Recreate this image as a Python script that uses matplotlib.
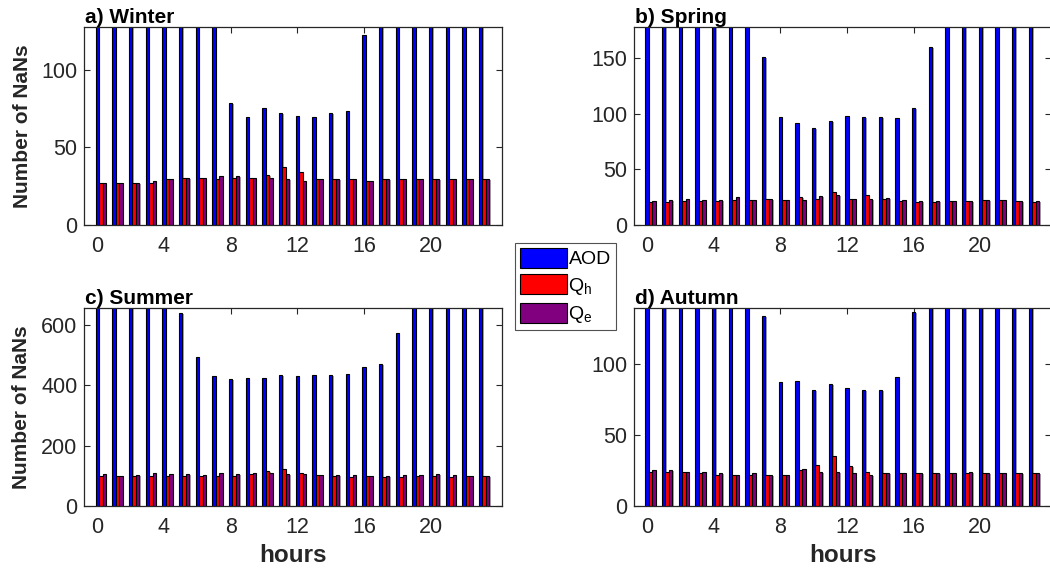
import matplotlib
matplotlib.use("Agg")
import matplotlib.pyplot as plt
import matplotlib.patheffects as pe
import numpy as np

plt.rcParams['font.family'] = ['Liberation Sans', 'DejaVu Sans']
plt.rcParams['mathtext.fontset'] = 'custom'
plt.rcParams['mathtext.rm'] = 'Liberation Sans'

hours = np.arange(24)

# number of NaNs per hour (AOD values above the top of axes are guesses)
winter_aod = [140, 140, 140, 140, 140, 140, 140, 140, 78.3, 69.3, 75.1, 71.9, 70.2, 69.3, 71.9, 73.2,
              122.3, 140, 140, 140, 140, 140, 140, 140]
winter_qh = [27.3, 27.3, 27.3, 27.3, 29.4, 30, 30, 29.4, 30, 30, 32.2, 37.1, 34.1, 29.4, 29.4, 29.4,
             28.1, 29.4, 29.4, 29.4, 29.4, 29.4, 29.4, 29.4]
winter_qe = [27.3, 27.3, 27.3, 28.1, 29.4, 30, 30, 31.5, 31.5, 30, 30, 29.4, 28.1, 29.4, 29.4, 29.4,
             28.1, 29.4, 29.4, 29.4, 29.4, 29.4, 29.4, 29.4]

spring_aod = [190, 190, 190, 190, 190, 190, 190, 150.6, 96.7, 91.9, 86.8, 93.1, 97.6, 96.7, 96.7, 95.8,
              104.8, 159.6, 190, 190, 190, 190, 190, 190]
spring_qh = [20.4, 20.4, 21.3, 21.3, 21.3, 22.2, 22.2, 23, 22.2, 24.9, 23.7, 29.3, 23.7, 27.2, 23, 21.3,
             20.4, 20.4, 21.3, 21.3, 22.2, 22.2, 21.3, 20.4]
spring_qe = [21.3, 22.2, 23, 22.2, 22.2, 25.1, 22.2, 23, 22.2, 22.2, 26, 27.2, 23.7, 23, 24, 22.2,
             21.3, 21.3, 21.3, 21.3, 22.2, 22.2, 21.3, 21.3]

summer_aod = [700, 700, 700, 700, 700, 638.7, 492.8, 429.8, 419.9, 423.2, 423.2, 433.1, 429.8, 432, 434.3,
              436.5, 459.7, 469.6, 572.4, 700, 700, 700, 700, 700]
summer_qh = [98.3, 98.3, 98.3, 98.3, 98.3, 98.3, 98.3, 99.4, 98.3, 106, 115, 121.5, 108, 101.7, 98.3, 96,
             98.3, 96, 96, 98.3, 98.3, 96, 98.3, 98.3]
summer_qe = [106, 99.4, 101.7, 109.4, 106, 105, 101.7, 108.3, 106, 110.5, 109.4, 106, 106, 101.7, 101.7,
             101.7, 99.4, 100.5, 101.7, 102.8, 105, 101.7, 98.3, 98.3]

autumn_aod = [150, 150, 150, 150, 150, 150, 150, 133.8, 87.1, 87.8, 81.9, 85.9, 82.9, 81.9, 81.9, 90.8,
              136.9, 150, 150, 150, 150, 150, 150, 150]
autumn_qh = [23.7, 23.7, 23.9, 23, 21.8, 21.8, 21.8, 21.8, 21.8, 25.1, 28.9, 35, 27.9, 23.9, 23, 23,
             23, 23, 23, 23, 23, 23, 23, 23]
autumn_qe = [25.1, 25.1, 23.9, 23.9, 23, 21.8, 23, 21.8, 21.8, 25.8, 23.9, 23.9, 23, 21.8, 23, 23,
             23, 23, 23, 23.9, 23, 23, 23, 23]

titles = ['a) Winter', 'b) Spring', 'c) Summer', 'd) Autumn']
ylims = [127.4, 178, 653.6, 139.2]
yticks = [[0, 50, 100], [0, 50, 100, 150], [0, 200, 400, 600], [0, 50, 100]]
data = [(winter_aod, winter_qh, winter_qe), (spring_aod, spring_qh, spring_qe),
        (summer_aod, summer_qh, summer_qe), (autumn_aod, autumn_qh, autumn_qe)]
labels = ['AOD', 'Q$_\\mathregular{h}$', 'Q$_\\mathregular{e}$']
colors = ['#0000ff', '#ff0000', '#800080']

W, H = 1050, 578
fig = plt.figure(figsize=(W / 100, H / 100), dpi=100)

# panel boxes in pixels (left, top, right, bottom)
boxes = [(84.3, 27, 501.7, 225), (634, 27, 1051.4, 225),
         (84.3, 308.3, 501.7, 506), (634, 308.3, 1051.4, 506)]

grey = (0.15, 0.15, 0.15)
shadow = [pe.SimplePatchShadow(offset=(1.0, -0.7), shadow_rgbFace=(0.55, 0.55, 0.55), alpha=0.8), pe.Normal()]
bw = 0.21
handles = []
for i in range(4):
    l, t, r, b = boxes[i]
    ax = fig.add_axes([l / W, 1 - b / H, (r - l) / W, (b - t) / H])
    for j in range(3):
        bars = ax.bar(hours + j * bw, data[i][j], width=bw, color=colors[j], edgecolor='black',
                      linewidth=0.8, label=labels[j], zorder=2)
        for p in bars:
            p.set_path_effects(shadow)
        if i == 0:
            handles.append(bars)
    ax.set_xlim(-0.78, 24.26)
    ax.set_ylim(0, ylims[i])
    ax.set_xticks(range(0, 24, 4))
    ax.set_yticks(yticks[i])
    ax.tick_params(direction='in', top=True, right=True, length=4, width=0.8,
                   labelsize=15.5, colors=grey, labelcolor=grey)
    ax.tick_params(axis='x', pad=8)
    ax.tick_params(axis='y', pad=5)
    for s in ax.spines.values():
        s.set_color(grey)
        s.set_linewidth(0.9)
        s.set_zorder(3)
    ax.set_title(titles[i], loc='left', fontsize=15, fontweight='bold', pad=3, x=0.002)
    if i % 2 == 0:
        ax.set_ylabel('Number of NaNs', fontsize=15, fontweight='bold', color=grey, labelpad=7)
    if i >= 2:
        ax.set_xlabel('hours', fontsize=17.5, fontweight='bold', color=grey, labelpad=4)

leg = fig.legend(handles, labels, loc='upper left', bbox_to_anchor=(515 / W, 1 - 243 / H),
                 fontsize=14, frameon=True, fancybox=False, edgecolor=grey,
                 handlelength=2.4, handleheight=1.2, handletextpad=0.1,
                 labelspacing=0.3, borderpad=0.25, borderaxespad=0)
leg.get_frame().set_linewidth(0.8)
for h in leg.legend_handles:
    h.set_path_effects([])

fig.savefig('out.png', dpi=100)
